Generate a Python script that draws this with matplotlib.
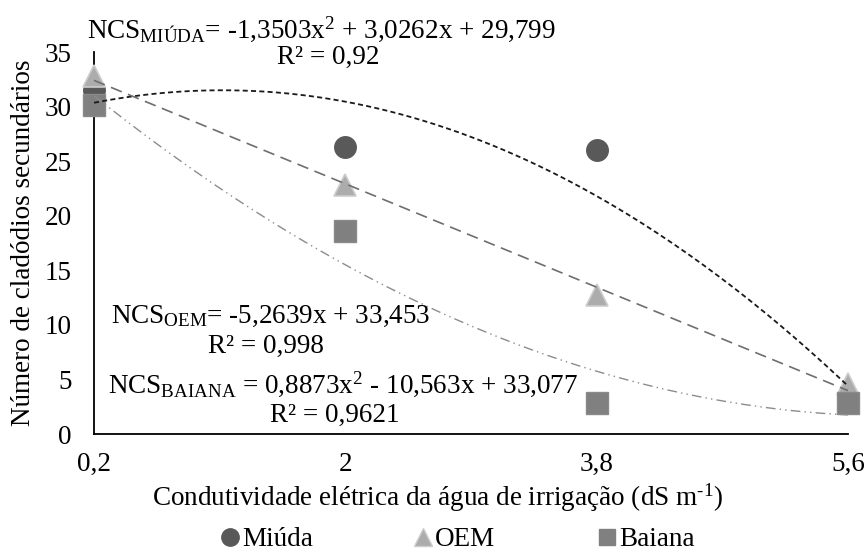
import matplotlib
matplotlib.use("Agg")
import matplotlib.pyplot as plt
import numpy as np
from matplotlib.lines import Line2D

plt.rcParams['font.family'] = ['Liberation Serif', 'DejaVu Serif']
plt.rcParams['mathtext.fontset'] = 'custom'
plt.rcParams['mathtext.rm'] = 'Liberation Serif'
plt.rcParams['mathtext.it'] = 'Liberation Serif'

# data
ce = [0.2, 2.0, 3.8, 5.6]
ce_labels = ["0,2", "2", "3,8", "5,6"]
miuda = [31.5, 26.3, 26.0, 2.9]
oem = [32.8, 22.8, 12.7, 4.6]
baiana = [30.1, 18.6, 2.8, 2.8]
series_names = ['Miúda', 'OEM', 'Baiana']

# trendline coefficients (highest power first), as printed on chart
coef_miuda = [-1.3503, 3.0262, 29.799]
coef_oem = [-5.2639, 33.453]
coef_baiana = [0.8873, -10.563, 33.077]

yticks = [0, 5, 10, 15, 20, 25, 30, 35]

FS = 19.5
W, H = 868, 552

fig = plt.figure(figsize=(8.68, 5.52), dpi=100)
ax = fig.add_axes([94 / W, 1 - 434 / H, (848 - 94) / W, (434 - 52) / H])

xs = np.linspace(ce[0], ce[-1], 200)
ax.plot(xs, np.polyval(coef_miuda, xs), color='#1a1a1a', lw=1.3,
        linestyle=(0, (2.8, 1.8)), zorder=4)
ax.plot(xs, np.polyval(coef_oem, xs), color='#6e6e6e', lw=1.2,
        linestyle=(0, (7, 4)), zorder=4)
ax.plot(xs, np.polyval(coef_baiana, xs), color='#8c8c8c', lw=1.0,
        linestyle=(0, (7, 3, 1, 3, 1, 3)), zorder=4)

ax.plot(ce, miuda, 'o', ms=15.5, color='#595959', mec='#595959', clip_on=False, zorder=3)
ax.plot(ce, oem, '^', ms=16.5, color='#acacac', mec='#cccccc', mew=1.2, clip_on=False, zorder=3)
ax.plot(ce, baiana, 's', ms=16, color='#808080', mec='#8a8a8a', clip_on=False, zorder=3)

ax.set_xlim(ce[0], ce[-1])
ax.set_ylim(0, 35)
ax.set_xticks(ce)
ax.set_xticklabels(ce_labels)
ax.set_yticks(yticks)
ax.tick_params(axis='both', length=0, labelsize=FS, colors='black')
ax.tick_params(axis='x', pad=13)
ax.tick_params(axis='y', pad=16)
for s in ['top', 'right']:
    ax.spines[s].set_visible(False)
for s in ['left', 'bottom']:
    ax.spines[s].set_linewidth(1.3)
    ax.spines[s].set_color('black')

ax.set_xlabel(r'Condutividade elétrica da água de irrigação (dS m$^{\text{-1}}$)', fontsize=FS)
ax.set_ylabel('Número de cladódios secundários', fontsize=FS)
ax.xaxis.set_label_coords((437 - 94) / 754, (434 - 482) / 382)
ax.yaxis.set_label_coords((36 - 94) / 754, 0.5)

fig.text(87 / W, 1 - 29 / H, r'NCS$_{\mathrm{MIÚDA}}$= -1,3503x$^{2}$ + 3,0262x + 29,799', fontsize=FS, ha='left', va='center')
fig.text(328 / W, 1 - 57 / H, 'R² = 0,92', fontsize=FS, ha='center', va='center')
fig.text(111 / W, 1 - 316 / H, r'NCS$_{\mathrm{OEM}}$= -5,2639x + 33,453', fontsize=FS, ha='left', va='center')
fig.text(266 / W, 1 - 346 / H, 'R² = 0,998', fontsize=FS, ha='center', va='center')
fig.text(108 / W, 1 - 384 / H, r'NCS$_{\mathrm{BAIANA}}$ = 0,8873x$^{2}$ - 10,563x + 33,077', fontsize=FS, ha='left', va='center')
fig.text(335 / W, 1 - 415 / H, 'R² = 0,9621', fontsize=FS, ha='center', va='center')

handles = [Line2D([], [], marker='o', ls='', ms=12.5, color='#595959'),
           Line2D([], [], marker='^', ls='', ms=12.5, color='#acacac', mec='#cccccc'),
           Line2D([], [], marker='s', ls='', ms=11.5, color='#808080')]
leg_x = [222, 415, 599]
for hnd, name, lx in zip(handles, series_names, leg_x):
    fig.legend([hnd], [name], loc='center left', bbox_to_anchor=(lx / W, 1 - 540 / H),
               frameon=False, fontsize=FS, handlelength=0.6, handletextpad=0.15,
               borderpad=0, borderaxespad=0)

fig.savefig('out.png', dpi=100)
